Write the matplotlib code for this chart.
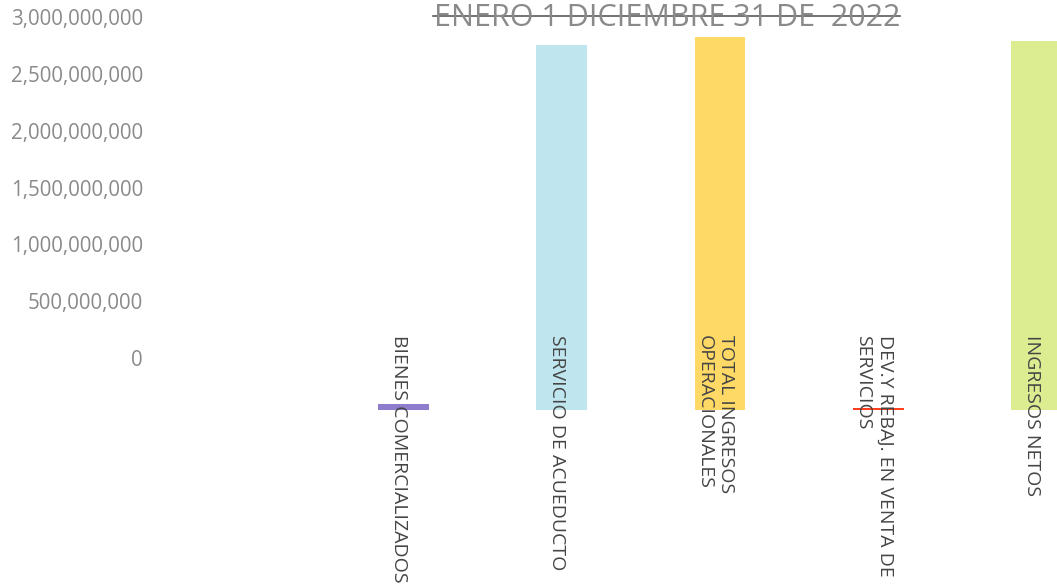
import numpy as np
import matplotlib
matplotlib.use("Agg")
import matplotlib.pyplot as plt
from matplotlib.lines import Line2D
from matplotlib.ticker import FuncFormatter
import matplotlib.transforms as mtransforms

plt.rcParams['font.family'] = ['Open Sans', 'DejaVu Sans']

# data
categories = ['BIENES COMERCIALIZADOS',
              'SERVICIO DE ACUEDUCTO',
              'TOTAL INGRESOS\nOPERACIONALES',
              'DEV.Y REBAJ. EN VENTA DE\nSERVICIOS',
              'INGRESOS NETOS']
values = [45_000_000, 2_790_000_000, 2_850_000_000, 18_000_000, 2_820_000_000]
colors = ['#8e7ccd', '#bfe5ef', '#ffd966', '#ff3f1f', '#dcec90']
yticks = [0, 500_000_000, 1_000_000_000, 1_500_000_000,
          2_000_000_000, 2_500_000_000, 3_000_000_000]
title = 'ENERO 1 DICIEMBRE 31 DE  2022'

W, H = 1057, 588
fig = plt.figure(figsize=(W / 100, H / 100), dpi=100)
rect = [150 / W, 0, 907 / W, 1]

# value axis (the scan has its labels shifted against the bars)
ax_lab = fig.add_axes(rect)
ax_lab.set_ylim(-2.0235e9, 3.1496e9)
ax_lab.set_yticks(yticks)
ax_lab.yaxis.set_major_formatter(FuncFormatter(lambda v, p: '{:,.0f}'.format(v)))
ax_lab.tick_params(axis='y', length=0, pad=5, labelsize=14.8, labelcolor='#8a8a8a')
ax_lab.set_xticks([])
for s in ax_lab.spines.values():
    s.set_visible(False)
ax_lab.patch.set_visible(False)

# bars
ax = fig.add_axes(rect)
x = np.arange(len(categories))
ax.bar(x, values, width=0.32, color=colors)
ax.set_xlim(-1.601, 4.128)
ax.set_ylim(-1.361e9, 3.134e9)
ax.axis('off')

trans = mtransforms.blended_transform_factory(ax.transData, ax.transAxes)
for i, name in enumerate(categories):
    ax.text(i - 0.03, 1 - 335 / H, name, transform=trans, rotation=270,
            ha='center', va='top', fontsize=14, color='#454545',
            linespacing=1.3, multialignment='left')

fig.text(667 / W, 1 - 26 / H, title, ha='center', va='baseline',
         fontsize=22, color='#8a8a8a')
fig.add_artist(Line2D([433 / W, 900 / W], [1 - 16 / H, 1 - 16 / H],
                      color='#5a5a5a', lw=1.2))

fig.savefig('out.png', dpi=100)
